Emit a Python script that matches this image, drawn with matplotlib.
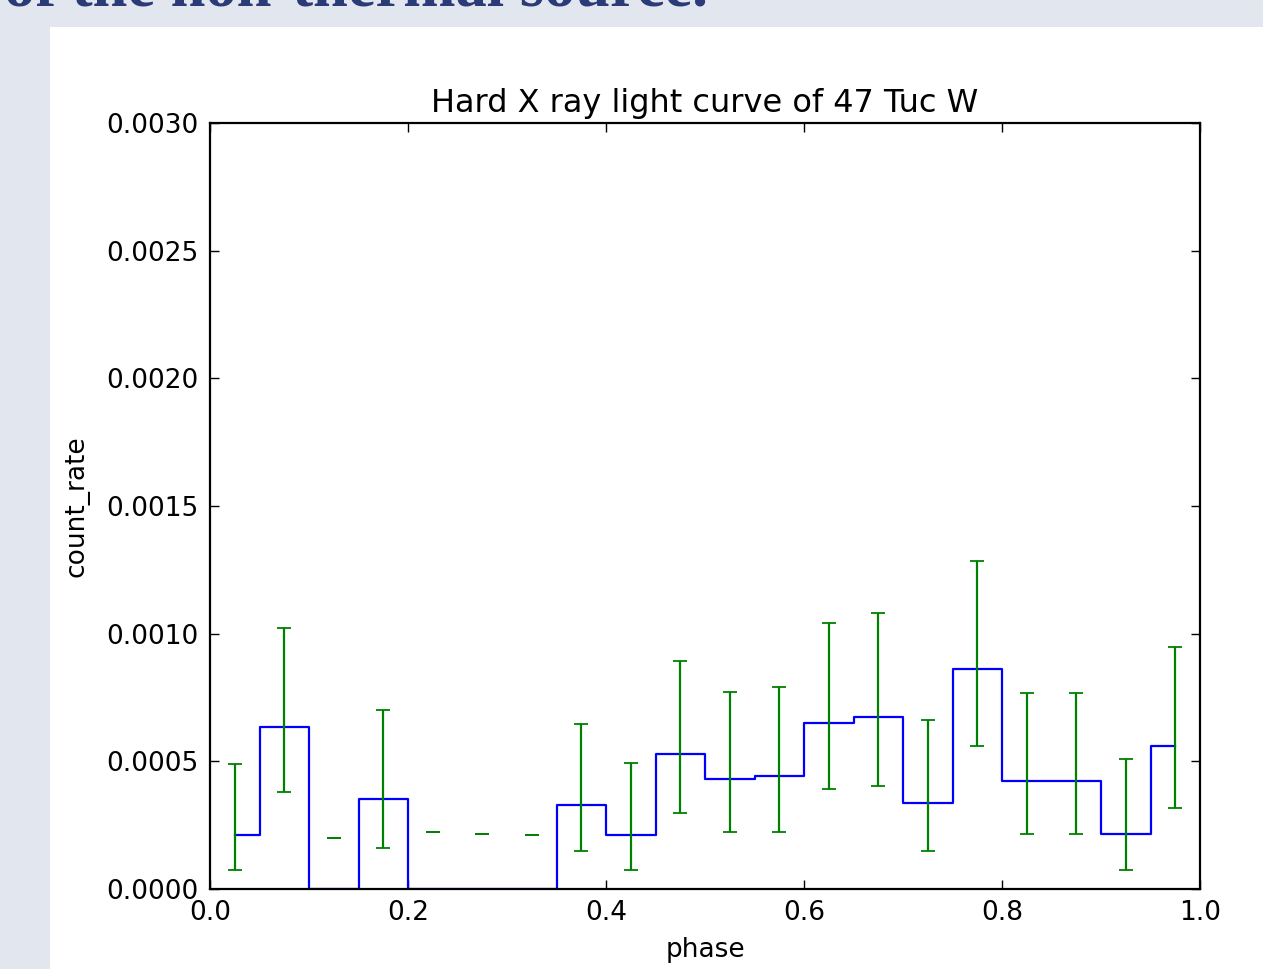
import numpy as np
import matplotlib
matplotlib.use("Agg")
import matplotlib.pyplot as plt
from matplotlib.patches import Rectangle
from matplotlib.ticker import FormatStrFormatter, MultipleLocator

# phase bins (centres), count rate per bin and the error bar bounds
phase = np.arange(20) * 0.05 + 0.025
count_rate = [0.000211, 0.000634, 0.0, 0.000353, 0.0, 0.0, 0.0, 0.000328,
              0.000211, 0.000530, 0.000431, 0.000443, 0.000650, 0.000674,
              0.000337, 0.000862, 0.000424, 0.000424, 0.000217, 0.000560]
err_low = [0.000073, 0.000379, 0.000198, 0.000160, 0.000223, 0.000216, 0.000210, 0.000148,
           0.000073, 0.000298, 0.000223, 0.000223, 0.000393, 0.000405,
           0.000148, 0.000560, 0.000217, 0.000217, 0.000073, 0.000319]
err_high = [0.000490, 0.001022, 0.000198, 0.000703, 0.000223, 0.000216, 0.000210, 0.000646,
            0.000492, 0.000892, 0.000773, 0.000792, 0.001042, 0.001081,
            0.000661, 0.001286, 0.000766, 0.000766, 0.000510, 0.000948]

lo = np.array(err_low)
hi = np.array(err_high)
mid = (lo + hi) / 2
half = (hi - lo) / 2

W, H = 1263, 969
fig = plt.figure(figsize=(W / 100, H / 100), dpi=100, facecolor="#e1e6ef")

# white page area of the screenshot, with the cut-off heading above it
fig.patches.append(Rectangle((50 / W, 0), 1 - 50 / W, 1 - 27 / H,
                             transform=fig.transFigure, facecolor="white",
                             edgecolor="none", zorder=-1))
fig.text(4 / W, 1 - 6 / H, "of the non-thermal source.", fontsize=45,
         family="Liberation Serif", weight="bold", color="#2b3b78",
         va="baseline", ha="left")

ax = fig.add_axes([210 / W, 1 - 889 / H, 990 / W, 766 / H])
ax.set_zorder(2)
ax.step(phase, count_rate, where="mid", color="b", lw=1.6)
ax.errorbar(phase, mid, yerr=half, fmt="none", ecolor="g", elinewidth=1.6,
            capsize=4.7, capthick=1.3)

ax.set_xlim(0, 1)
ax.set_ylim(0, 0.003)
ax.xaxis.set_major_locator(MultipleLocator(0.2))
ax.yaxis.set_major_locator(MultipleLocator(0.0005))
ax.xaxis.set_major_formatter(FormatStrFormatter("%.1f"))
ax.yaxis.set_major_formatter(FormatStrFormatter("%.4f"))
ax.tick_params(direction="in", top=True, right=True, length=6.5, width=1.0,
               labelsize=19, pad=8)
for s in ax.spines.values():
    s.set_linewidth(1.6)

ax.set_title("Hard X ray light curve of 47 Tuc W", fontsize=23, pad=8)
ax.set_xlabel("phase", fontsize=19, labelpad=8)
ax.set_ylabel("count_rate", fontsize=19, labelpad=12)

fig.savefig("out.png", dpi=100, facecolor=fig.get_facecolor())
